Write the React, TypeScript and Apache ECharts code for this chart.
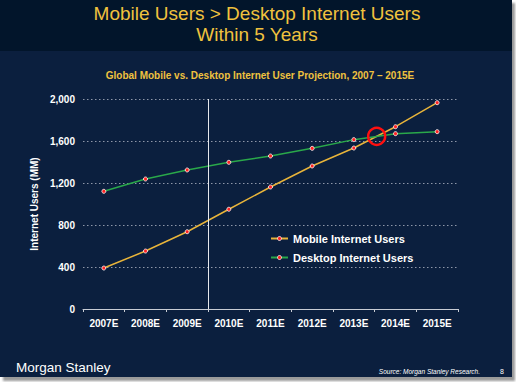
import React, { useEffect, useRef } from "react";
import * as echarts from "echarts";

const categories = ["2007E", "2008E", "2009E", "2010E", "2011E", "2012E", "2013E", "2014E", "2015E"];
const mobileUsers = [390, 552, 736, 950, 1162, 1362, 1533, 1736, 1965];
const desktopUsers = [1121, 1238, 1324, 1397, 1457, 1530, 1613, 1670, 1689];
const yMin = 0;
const yMax = 2000;
const yInterval = 400;
const dividerBoundary = 3; // boundary between 2009E and 2010E

const FONT = "'Liberation Sans', Arial, sans-serif";
const GOLD = "#f0c23e";

function findCrossing(a: number[], b: number[]) {
  for (let i = 0; i < a.length - 1; i++) {
    const d0 = a[i] - b[i];
    const d1 = a[i + 1] - b[i + 1];
    if (d0 < 0 && d1 >= 0) {
      const t = -d0 / (d1 - d0);
      return { x: i + t + 0.5, y: a[i] + t * (a[i + 1] - a[i]) };
    }
  }
  return null;
}

export default function App() {
  const ref = useRef<HTMLDivElement>(null);
  useEffect(() => {
    const chart = echarts.init(ref.current!, null, { renderer: "svg" });
    const cross = findCrossing(mobileUsers, desktopUsers);
    const markerStyle = { color: "#ff2222", borderColor: "#ffffff", borderWidth: 0.8 };
    chart.setOption({
      animation: false,
      backgroundColor: "transparent",
      textStyle: { fontFamily: FONT },
      graphic: [
        {
          type: "text",
          x: 257,
          y: 13,
          style: {
            text: "Mobile Users > Desktop Internet Users",
            fill: GOLD,
            font: `19px ${FONT}`,
            align: "center",
            verticalAlign: "middle",
          },
        },
        {
          type: "text",
          x: 257,
          y: 34,
          style: {
            text: "Within 5 Years",
            fill: GOLD,
            font: `19px ${FONT}`,
            align: "center",
            verticalAlign: "middle",
          },
        },
        {
          type: "text",
          x: 260,
          y: 75,
          style: {
            text: "Global Mobile vs. Desktop Internet User Projection, 2007 \u2013 2015E",
            fill: GOLD,
            font: `bold 10px ${FONT}`,
            align: "center",
            verticalAlign: "middle",
          },
        },
        {
          type: "text",
          x: 16,
          y: 367,
          style: {
            text: "Morgan Stanley",
            fill: "#ffffff",
            font: `13.5px ${FONT}`,
            verticalAlign: "middle",
          },
        },
        {
          type: "text",
          x: 480,
          y: 371,
          style: {
            text: "Source: Morgan Stanley Research.",
            fill: "#ffffff",
            font: `italic 6.5px ${FONT}`,
            align: "right",
            verticalAlign: "middle",
          },
        },
        {
          type: "text",
          x: 502,
          y: 371,
          style: {
            text: "8",
            fill: "#ffffff",
            font: `7px ${FONT}`,
            align: "center",
            verticalAlign: "middle",
          },
        },
      ],
      grid: { left: 83, right: 58, top: 99, bottom: 73, containLabel: false },
      legend: {
        orient: "vertical",
        left: 270,
        top: 233,
        padding: 0,
        itemWidth: 17,
        itemHeight: 5,
        itemGap: 8,
        data: ["Mobile Internet Users", "Desktop Internet Users"],
        itemStyle: { color: "#ff2222", borderColor: "#ffffff", borderWidth: 0.8 },
        textStyle: { color: "#ffffff", fontWeight: "bold", fontSize: 11, fontFamily: FONT },
      },
      xAxis: [
        {
          type: "category",
          data: categories,
          boundaryGap: true,
          axisLine: { lineStyle: { color: "#c8ccd4", width: 1 } },
          axisTick: { show: true, length: 3, lineStyle: { color: "#c8ccd4" } },
          axisLabel: { color: "#ffffff", fontWeight: "bold", fontSize: 10, margin: 9, fontFamily: FONT },
        },
        {
          type: "value",
          min: 0,
          max: categories.length,
          show: false,
        },
      ],
      yAxis: {
        type: "value",
        min: yMin,
        max: yMax,
        interval: yInterval,
        name: "Internet Users (MM)",
        nameLocation: "middle",
        nameGap: 39,
        nameTextStyle: { color: "#ffffff", fontWeight: "bold", fontSize: 10, fontFamily: FONT },
        axisLine: { show: false },
        axisTick: { show: false },
        axisLabel: {
          color: "#ffffff",
          fontWeight: "bold",
          fontSize: 10,
          margin: 8,
          fontFamily: FONT,
          formatter: (v: number) => v.toLocaleString("en-US"),
        },
        splitLine: { lineStyle: { color: "#8e97a8", type: [1.5, 2.5], width: 1 } },
      },
      series: [
        {
          name: "Mobile Internet Users",
          type: "line",
          data: mobileUsers,
          symbol: "circle",
          symbolSize: 4,
          lineStyle: { color: "#e8b43a", width: 1.5 },
          itemStyle: markerStyle,
          z: 3,
        },
        {
          name: "Desktop Internet Users",
          type: "line",
          data: desktopUsers,
          symbol: "circle",
          symbolSize: 4,
          lineStyle: { color: "#2aa84a", width: 1.5 },
          itemStyle: markerStyle,
          z: 3,
        },
        {
          name: "crossing",
          type: "scatter",
          xAxisIndex: 1,
          data: cross ? [[cross.x, cross.y]] : [],
          symbol: "circle",
          symbolSize: 17,
          itemStyle: { color: "transparent", borderColor: "#ff1010", borderWidth: 2.5, opacity: 1 },
          z: 4,
          markLine: {
            silent: true,
            symbol: "none",
            label: { show: false },
            lineStyle: { color: "#e6e8ec", type: "solid", width: 1 },
            data: [{ xAxis: dividerBoundary }],
          },
        },
      ],
    });
    return () => chart.dispose();
  }, []);

  return (
    <div style={{ position: "fixed", left: 0, top: 0, width: 516, height: 382, background: "#ffffff" }}>
      <div style={{ position: "absolute", left: 3, top: 3, width: 512, height: 378, background: "#9a9a9a", filter: "blur(1px)" }} />
      <div style={{ position: "absolute", left: 0, top: 0, width: 512, height: 377, background: "#0b1f3e" }} />
      <div style={{ position: "absolute", left: 0, top: 0, width: 512, height: 51, background: "#02152b" }} />
      <div ref={ref} style={{ position: "absolute", left: 0, top: 0, width: 516, height: 382 }} />
    </div>
  );
}
